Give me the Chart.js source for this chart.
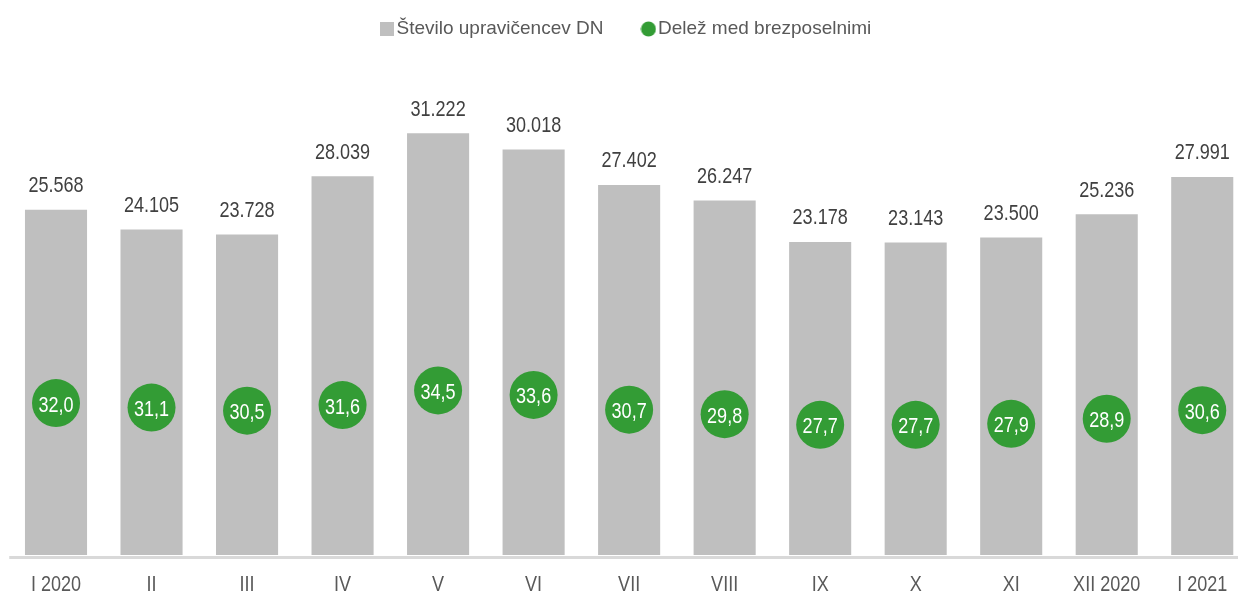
<!DOCTYPE html>
<html>
<head>
<meta charset="utf-8">
<script src="https://cdn.jsdelivr.net/npm/chart.js@4/dist/chart.umd.min.js"></script>
<style>
  html, body { margin: 0; padding: 0; background: #ffffff; overflow: hidden; }
  #c { display: block; }
</style>
</head>
<body>
<canvas id="c" width="1250" height="594"></canvas>
<script>
const categories = ['I 2020', 'II', 'III', 'IV', 'V', 'VI', 'VII', 'VIII', 'IX', 'X', 'XI', 'XII 2020', 'I 2021'];
const beneficiaries = [25568, 24105, 23728, 28039, 31222, 30018, 27402, 26247, 23178, 23143, 23500, 25236, 27991];
const shareUnemployed = [32.0, 31.1, 30.5, 31.6, 34.5, 33.6, 30.7, 29.8, 27.7, 27.7, 27.9, 28.9, 30.6];
const seriesNames = ['Število upravičencev DN', 'Delež med brezposelnimi'];

const FONT = '"Liberation Sans", Arial, sans-serif';
const NARROW = 0.82; // Arial Narrow look: Arial metrics compressed horizontally
const BAR_COLOR = '#bfbfbf';
const GREEN = '#339c35';

function fmtThousands(v) {
  return String(v).replace(/\B(?=(\d{3})+(?!\d))/g, '.');
}
function fmtDecimal(v) {
  return v.toFixed(1).replace('.', ',');
}

// Render the 22px texts (values, ticks) narrow: real text, horizontally condensed
const canvas = document.getElementById('c');
const ctx2d = canvas.getContext('2d');
const origMeasure = ctx2d.measureText.bind(ctx2d);
const origFill = ctx2d.fillText.bind(ctx2d);
function factor(c) { return /(^|\s)22px/.test(c.font) ? NARROW : 1; }
ctx2d.measureText = function (t) {
  const m = origMeasure(t);
  const f = factor(this);
  return {
    width: m.width * f,
    actualBoundingBoxAscent: m.actualBoundingBoxAscent,
    actualBoundingBoxDescent: m.actualBoundingBoxDescent,
    actualBoundingBoxLeft: m.actualBoundingBoxLeft * f,
    actualBoundingBoxRight: m.actualBoundingBoxRight * f,
    fontBoundingBoxAscent: m.fontBoundingBoxAscent,
    fontBoundingBoxDescent: m.fontBoundingBoxDescent
  };
};
ctx2d.fillText = function (t, x, y, maxWidth) {
  const f = factor(this);
  if (f === 1) {
    return (maxWidth === undefined || maxWidth === null) ? origFill(t, x, y) : origFill(t, x, y, maxWidth);
  }
  const w = origMeasure(t).width * f;
  const mw = (maxWidth === undefined || maxWidth === null) ? w : Math.min(maxWidth, w);
  return origFill(t, x, y, mw);
};

// legend marker images
const sq = document.createElement('canvas');
sq.width = 14; sq.height = 14;
(function(){ const g = sq.getContext('2d'); g.fillStyle = BAR_COLOR; g.fillRect(0, 0, 14, 14); })();
const circ = document.createElement('canvas');
circ.width = 16; circ.height = 16;
(function(){ const g = circ.getContext('2d'); g.fillStyle = GREEN; g.beginPath(); g.arc(8, 8, 7.5, 0, Math.PI * 2); g.fill(); })();

const labelPlugin = {
  id: 'valueLabels',
  afterDatasetsDraw(chart) {
    const ctx = chart.ctx;
    ctx.save();
    const barMeta = chart.getDatasetMeta(0);
    ctx.font = '22px ' + FONT;
    ctx.fillStyle = '#404040';
    ctx.textAlign = 'center';
    ctx.textBaseline = 'alphabetic';
    barMeta.data.forEach((el, i) => {
      ctx.fillText(fmtThousands(beneficiaries[i]), el.x, el.y - 17.5);
    });
    const ptMeta = chart.getDatasetMeta(1);
    ctx.fillStyle = '#ffffff';
    ptMeta.data.forEach((el, i) => {
      ctx.fillText(fmtDecimal(shareUnemployed[i]), el.x, el.y + 8.5);
    });
    ctx.restore();
  }
};

const axisLinePlugin = {
  id: 'axisLine',
  beforeDatasetsDraw(chart) {
    const {ctx, chartArea} = chart;
    ctx.save();
    ctx.fillStyle = '#d9d9d9';
    ctx.fillRect(chartArea.left + 1, chartArea.bottom + 1, chartArea.right - chartArea.left, 3);
    ctx.restore();
  }
};

new Chart(canvas, {
  data: {
    labels: categories,
    datasets: [
      {
        type: 'bar',
        label: seriesNames[0],
        data: beneficiaries,
        backgroundColor: BAR_COLOR,
        borderWidth: 0,
        yAxisID: 'y',
        order: 1,
        categoryPercentage: 1.0,
        barPercentage: 0.65
      },
      {
        type: 'line',
        label: seriesNames[1],
        data: shareUnemployed,
        showLine: false,
        pointRadius: 24,
        pointHoverRadius: 24,
        pointBackgroundColor: GREEN,
        pointBorderWidth: 0,
        borderColor: GREEN,
        yAxisID: 'y2',
        order: 0
      }
    ]
  },
  options: {
    responsive: false,
    animation: false,
    devicePixelRatio: 1,
    layout: { autoPadding: false, padding: { left: 8.25, right: 0, top: -25.5, bottom: -21 } },
    plugins: {
      tooltip: { enabled: false },
      legend: {
        display: true,
        position: 'top',
        labels: {
          usePointStyle: true,
          pointStyleWidth: 0.01,
          padding: 45,
          color: '#595959',
          font: { family: FONT, size: 19 },
          generateLabels() {
            return [
              { text: seriesNames[0], pointStyle: sq, fillStyle: BAR_COLOR, strokeStyle: 'transparent', lineWidth: 0, fontColor: '#595959', hidden: false, datasetIndex: 0 },
              { text: seriesNames[1], pointStyle: circ, fillStyle: GREEN, strokeStyle: 'transparent', lineWidth: 0, fontColor: '#595959', hidden: false, datasetIndex: 1 }
            ];
          }
        }
      }
    },
    scales: {
      x: {
        offset: true,
        grid: { display: false, drawTicks: false },
        border: { display: false },
        ticks: {
          color: '#595959',
          padding: 19,
          font: { family: FONT, size: 22, lineHeight: 1.0 },
          maxRotation: 0,
          autoSkip: false
        }
      },
      y: {
        display: false,
        min: 0,
        max: 37500
      },
      y2: {
        display: false,
        position: 'right',
        min: 2,
        max: 102
      }
    }
  },
  plugins: [labelPlugin, axisLinePlugin]
});
</script>
</body>
</html>
